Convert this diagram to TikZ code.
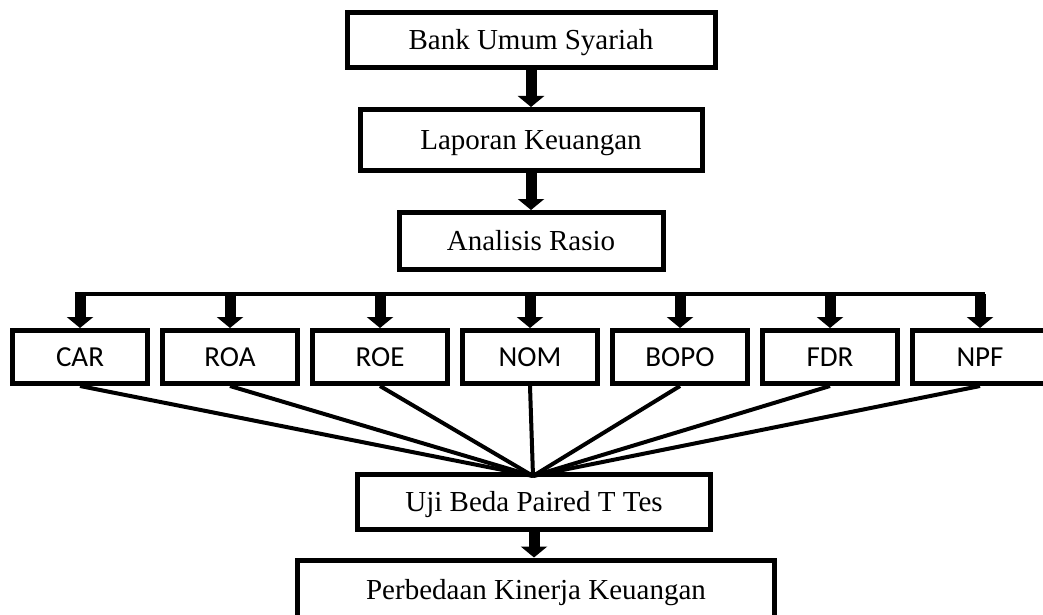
\documentclass[tikz,border=0pt]{standalone}
\usepackage{fontspec}
\setmainfont{Liberation Serif}
\newfontfamily\calibrifont{Carlito}
\usetikzlibrary{positioning,arrows.meta}
\tikzset{
  stagebox/.style={draw, line width=5pt, inner sep=0pt, text height=19pt, text depth=0pt, font=\fontsize{29}{34}\selectfont},
  ratiobox/.style={draw, line width=5pt, inner sep=0pt, text height=18.5pt, text depth=0pt, minimum width=135pt, minimum height=53pt, font=\calibrifont\fontsize{29}{34}\selectfont},
  fatarrow/.style={line width=11pt, -{Triangle[width=26pt,length=11pt]}},
  spoke/.style={line width=4pt}
}
\begin{document}
\begin{tikzpicture}[x=1pt,y=-1pt]
\useasboundingbox (0,0) rectangle (1043,615);
\node [stagebox, minimum width=368pt, minimum height=55pt] (BUS) at (531,40) {Bank Umum Syariah};
\node [stagebox, minimum width=342pt, minimum height=61pt] (LK) at (531,140) {Laporan Keuangan};
\node [stagebox, minimum width=264pt, minimum height=57pt] (AR) at (531,241) {Analisis Rasio};
\draw [fatarrow] (BUS.south) -- (LK.north);
\draw [fatarrow] (LK.south) -- (AR.north);
% ratios
\foreach \name/\xpos in {CAR/80, ROA/230, ROE/380, NOM/530, BOPO/680, FDR/830, NPF/980}
  \node [ratiobox] (\name) at (\xpos,357) {\name};
\coordinate (barL) at (75,294);
\coordinate (barR) at (985,294);
\draw [spoke] (barL) -- (barR);
\foreach \name in {CAR, ROA, ROE, NOM, BOPO, FDR, NPF}
  \draw [fatarrow] (\name.north |- barL) -- (\name.north);
% test
\node [stagebox, minimum width=353pt, minimum height=55pt] (UJI) at (534,502) {Uji Beda Paired T Tes};
\coordinate (hub) at (533,476);
\foreach \name in {CAR, ROA, ROE, NOM, BOPO, FDR, NPF}
  \draw [spoke] (\name.south) -- (hub);
\node [stagebox, minimum width=477pt, minimum height=60pt] (PKK) at (536,590) {Perbedaan Kinerja Keuangan};
\draw [fatarrow] (UJI.south) -- (UJI.south |- PKK.north);
\end{tikzpicture}
\end{document}
